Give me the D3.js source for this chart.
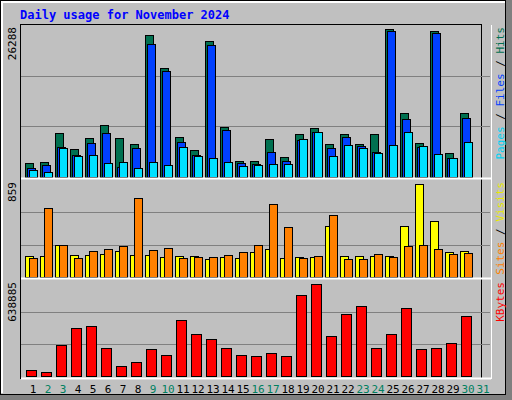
<!DOCTYPE html>
<html><head><meta charset="utf-8">
<script src="https://cdn.jsdelivr.net/npm/d3@7"></script>
<style>body{margin:0;background:#fff}text{font-family:"DejaVu Sans Mono",monospace}</style>
</head><body><svg width="512" height="400"></svg>
<script>
const days = d3.range(1, 32);
const weekend = [2, 3, 9, 10, 16, 17, 23, 24, 30, 31];
const hits = [2486,2664,7814,4973,6926,9235,6926,5861,25219,19358,7104,4795,24154,8880,2842,2842,6749,3552,7637,8702,5861,7637,5861,7637,26288,11366,6038,25930,4262,11366];
const files = [1598,2131,5328,3907,6038,7814,1776,5150,23621,18826,6216,3907,23443,8347,2486,2309,4440,2842,6571,7992,5150,7104,5506,4440,25930,10301,5328,25574,3374,10478];
const pages = [1243,888,5150,3730,3907,2486,2664,1598,2664,2131,5328,3730,3374,2664,1954,2131,2309,2309,6749,7992,3730,5683,5150,4262,5683,7992,5506,4085,3374,6216];
const visits = [196,196,299,205,205,215,243,205,205,187,196,196,168,187,177,233,261,177,187,187,467,196,196,196,196,467,859,514,233,243];
const sites = [177,635,299,177,243,261,289,728,252,271,177,187,187,205,233,299,672,458,177,196,570,168,168,215,187,289,299,261,215,224];
const kbytes = [44200,30200,217600,330000,344000,196600,70200,98300,189600,147400,386100,294900,259800,196600,147400,140400,161500,140400,561700,638885,280800,428300,484400,196600,294900,470400,189600,196600,231700,414200];

const svg = d3.select('svg');
// frame
svg.append('rect').attr('x', 0).attr('y', 0).attr('width', 512).attr('height', 400).attr('fill', '#808080');
svg.append('rect').attr('x', 0.5).attr('y', 0.5).attr('width', 505).attr('height', 394).attr('fill', '#c0c0c0').attr('stroke', '#000');
svg.append('path').attr('d', 'M2,393V2H505').attr('fill', 'none').attr('stroke', '#fff').attr('stroke-width', 2);

svg.append('text').attr('x', 20).attr('y', 19).attr('fill', '#0000ff')
  .attr('font-size', 12).attr('font-weight', 'bold').text('Daily usage for November 2024');

const x = d3.scaleLinear().domain([0, 31]).range([25, 490]);

// plot box
svg.append('rect').attr('x', 20.5).attr('y', 24.5).attr('width', 220 * 2 + 1 + 20 + 0).attr('height', 354)
  .attr('fill', 'none').attr('stroke', '#000');
svg.append('path').attr('d', 'M20,379.5H242M241.5,25V379').attr('stroke', 'none');

const panels = [
  {top: 25, base: 177, max: 26288, label: '26288',
   series: [[hits, '#007050', 0, 8], [files, '#0040ff', 2, 8], [pages, '#00e0ff', 4, 8]],
   right: [['Pages', '#00d0f0'], [' / ', '#000'], ['Files', '#0040ff'], [' / ', '#000'], ['Hits', '#007050']]},
  {top: 180, base: 277, max: 859, label: '859',
   series: [[visits, '#ffff00', 0, 8], [sites, '#ff8000', 4, 8]],
   right: [['Sites', '#ff8000'], [' / ', '#000'], ['Visits', '#e8e800']]},
  {top: 280, base: 376, max: 638885, label: '638885',
   series: [[kbytes, '#ff0000', 1, 10]],
   right: [['KBytes', '#ff0000']]}
];

panels.forEach((p, pi) => {
  const y = d3.scaleLinear().domain([0, p.max]).range([p.base, p.base - (p.base - p.top - 4)]);
  const g = svg.append('g');
  const step = (p.base - p.top) / 3;
  [1, 2].forEach(k => g.append('line').attr('x1', 21).attr('x2', 490)
    .attr('y1', Math.round(p.base - step * k) + 0.5).attr('y2', Math.round(p.base - step * k) + 0.5)
    .attr('stroke', '#808080'));
  p.series.forEach(([vals, col, off, w]) => {
    g.selectAll(null).data(vals).join('rect')
      .attr('x', (d, i) => x(i) + off + 0.5)
      .attr('y', d => Math.round(y(d)) + 0.5)
      .attr('width', w)
      .attr('height', d => p.base - Math.round(y(d)))
      .attr('fill', col).attr('stroke', '#000');
  });
  if (pi > 0) svg.append('line').attr('x1', 21).attr('x2', 491).attr('y1', p.top - 1.5).attr('y2', p.top - 1.5)
    .attr('stroke', '#fff').attr('stroke-width', 2);
  svg.append('text').attr('transform', `translate(16,${p.top + 2}) rotate(-90)`)
    .attr('text-anchor', 'end').attr('font-size', 11).text(p.label);
  const t = svg.append('text').attr('transform', `translate(504,${p.top + 2}) rotate(-90)`)
    .attr('text-anchor', 'end').attr('font-size', 11);
  p.right.forEach(([s, c]) => t.append('tspan').attr('fill', c).text(s));
});
svg.append('line').attr('x1', 21).attr('x2', 491).attr('y1', 378.5).attr('y2', 378.5).attr('stroke', '#fff').attr('stroke-width', 2);
svg.append('line').attr('x1', 491.5).attr('x2', 491.5).attr('y1', 25).attr('y2', 379).attr('stroke', '#fff');

svg.selectAll('.day').data(days).join('text').attr('class', 'day')
  .attr('x', (d, i) => x(i) + 8).attr('y', 393).attr('text-anchor', 'middle').attr('font-size', 11)
  .attr('fill', d => weekend.includes(d) ? '#008060' : '#000').text(d => d);
</script></body></html>
